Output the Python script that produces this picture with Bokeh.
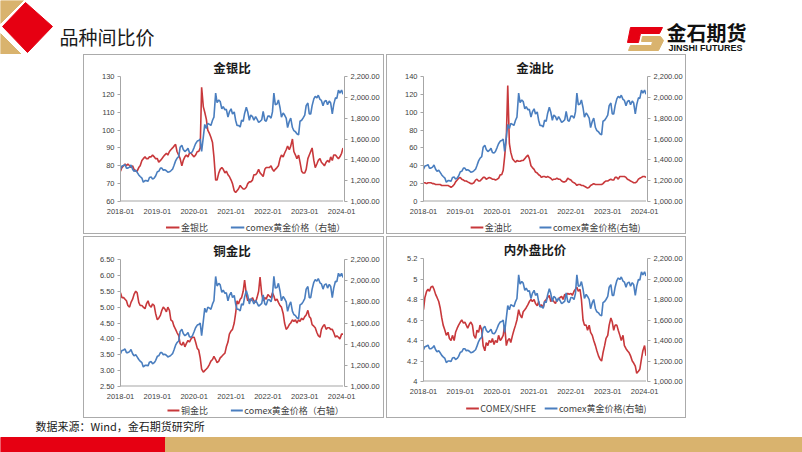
import pandas as pd
from bokeh.plotting import figure
from bokeh.layouts import row, column
from bokeh.models import (Range1d, FixedTicker, DatetimeTickFormatter,
                          NumeralTickFormatter, ColumnDataSource, Spacer)
from bokeh.core.properties import value
from bokeh.embed import file_html
from bokeh.resources import INLINE

# ---------------- data (semi-monthly readings) ----------------
dates = pd.date_range("2018-01-01", "2024-01-15", freq="SMS")
x_tick_labels = ["2018-01", "2019-01", "2020-01", "2021-01", "2022-01", "2023-01", "2024-01"]

gold = (
    [1310, 1340, 1345, 1355, 1320, 1320, 1330, 1350, 1310, 1290, 1300, 1280,
     1255, 1240, 1225, 1185, 1200, 1200, 1195, 1230, 1235, 1215, 1225, 1245]
    + [1285, 1290, 1320, 1320, 1300, 1305, 1295, 1280, 1285, 1295, 1310, 1345,
       1390, 1415, 1430, 1520, 1540, 1500, 1480, 1490, 1510, 1470, 1465, 1480]
    + [1520, 1555, 1580, 1585, 1600, 1480, 1620, 1740, 1700, 1750, 1740, 1730,
       1780, 1810, 2040, 1950, 1975, 1960, 1890, 1910, 1880, 1885, 1810, 1860]
    + [1890, 1840, 1860, 1780, 1730, 1730, 1715, 1780, 1770, 1845, 1905, 1860,
       1780, 1830, 1815, 1780, 1815, 1790, 1760, 1770, 1785, 1865, 1780, 1770]
    + [1820, 1820, 1800, 1860, 2040, 1930, 1935, 1975, 1900, 1810, 1850, 1830,
       1800, 1710, 1770, 1800, 1710, 1680, 1670, 1650, 1640, 1770, 1780, 1800]
    + [1830, 1920, 1945, 1840, 1840, 1920, 1985, 2010, 1995, 2020, 1980, 1970,
       1920, 1960, 1970, 1930, 1965, 1945, 1840, 1930, 1995, 1990, 2070, 2040]
    + [2070, 2030]
)

gold_silver = (
    [77, 79, 80, 81, 80, 81, 80, 79, 80, 78, 77, 77, 79, 80, 83, 84, 85, 84, 84, 85, 85, 86, 85, 84]
    + [84, 82, 83, 84, 85, 86, 87, 86, 88, 89, 90, 91, 92, 88, 86, 84, 80, 83, 85, 86, 85, 87, 87, 86]
    + [85, 86, 88, 88, 90, 124, 113, 110, 106, 100, 98, 96, 93, 85, 72, 72, 76, 78, 79, 78, 76, 77, 75, 74]
    + [72, 70, 66, 65, 66, 67, 69, 68, 67, 67, 68, 70, 71, 71, 72, 75, 75, 76, 78, 76, 75, 74, 78, 79]
    + [79, 79, 80, 78, 77, 78, 79, 80, 84, 86, 85, 87, 89, 91, 89, 91, 95, 88, 86, 84, 86, 82, 77, 76]
    + [76, 78, 84, 86, 88, 90, 83, 79, 81, 83, 84, 82, 81, 80, 82, 83, 82, 85, 83, 86, 86, 85, 84, 85]
    + [87, 90]
)

gold_oil = (
    [21, 21, 20, 21, 21, 21, 20, 20, 19, 19, 19, 19, 18, 18, 18, 18, 18, 17, 16, 17, 19, 22, 24, 26]
    + [27, 25, 24, 23, 23, 22, 21, 20, 20, 21, 24, 25, 23, 23, 25, 27, 27, 25, 26, 27, 26, 25, 25, 24]
    + [25, 26, 30, 30, 35, 50, 72, 130, 65, 55, 48, 46, 44, 46, 45, 45, 46, 46, 48, 50, 52, 48, 40, 38]
    + [36, 33, 32, 30, 29, 27, 28, 28, 27, 28, 27, 26, 24, 25, 25, 26, 25, 25, 23, 22, 22, 23, 26, 25]
    + [24, 22, 21, 20, 18, 19, 19, 18, 18, 17, 16, 15, 16, 18, 19, 20, 19, 19, 19, 19, 19, 20, 22, 23]
    + [23, 24, 25, 24, 24, 27, 27, 25, 28, 28, 28, 28, 27, 25, 24, 23, 22, 21, 21, 22, 25, 26, 27, 28]
    + [28, 27]
)

copper_gold = (
    [5.45, 5.30, 5.30, 5.25, 5.20, 5.05, 5.00, 5.15, 5.25, 5.40, 5.50, 5.45,
     5.15, 5.05, 5.05, 5.00, 4.95, 5.10, 5.20, 5.05, 5.00, 5.10, 5.05, 4.80]
    + [4.60, 4.65, 4.75, 4.90, 5.00, 4.95, 4.85, 5.00, 4.90, 4.60, 4.55, 4.40,
       4.30, 4.20, 4.10, 3.85, 3.80, 3.90, 3.75, 3.85, 3.95, 3.90, 4.00, 4.05]
    + [4.05, 3.90, 3.70, 3.65, 3.40, 3.05, 2.95, 3.00, 3.05, 3.10, 3.20, 3.30,
       3.35, 3.45, 3.35, 3.25, 3.30, 3.40, 3.45, 3.50, 3.55, 3.75, 3.90, 4.15]
    + [4.25, 4.30, 4.50, 4.80, 5.20, 5.10, 5.25, 5.30, 5.50, 5.85, 5.40, 5.20,
       5.25, 5.20, 5.30, 5.20, 5.15, 5.30, 5.50, 5.95, 5.40, 5.20, 5.30, 5.25]
    + [5.40, 5.35, 5.30, 5.45, 5.35, 5.20, 5.25, 5.15, 5.05, 5.00, 4.80, 4.50,
       4.30, 4.35, 4.45, 4.50, 4.60, 4.55, 4.60, 4.50, 4.60, 4.55, 4.65, 4.60]
    + [4.70, 4.75, 4.90, 4.70, 4.65, 4.45, 4.40, 4.35, 4.20, 4.10, 4.05, 4.30,
       4.40, 4.45, 4.30, 4.35, 4.35, 4.30, 4.30, 4.20, 4.05, 4.10, 4.05, 4.00]
    + [4.15, 4.15]
)

comex_shfe = (
    [4.70, 4.82, 4.88, 4.90, 4.88, 4.92, 4.93, 4.90, 4.85, 4.82, 4.78, 4.72,
     4.62, 4.55, 4.50, 4.45, 4.48, 4.42, 4.40, 4.45, 4.40, 4.48, 4.52, 4.55]
    + [4.58, 4.60, 4.57, 4.58, 4.55, 4.52, 4.56, 4.58, 4.55, 4.45, 4.42, 4.50,
       4.48, 4.55, 4.50, 4.35, 4.30, 4.38, 4.35, 4.40, 4.38, 4.42, 4.36, 4.40]
    + [4.38, 4.45, 4.40, 4.42, 4.45, 4.55, 4.35, 4.40, 4.42, 4.38, 4.45, 4.50,
       4.55, 4.60, 4.70, 4.65, 4.62, 4.68, 4.70, 4.72, 4.75, 4.78, 4.80, 4.78]
    + [4.80, 4.76, 4.74, 4.78, 4.73, 4.75, 4.72, 4.78, 4.80, 4.82, 4.84, 4.78,
       4.80, 4.78, 4.76, 4.80, 4.80, 4.82, 4.83, 4.80, 4.85, 4.84, 4.86, 4.85]
    + [4.86, 4.84, 4.88, 4.90, 4.92, 4.88, 4.90, 4.80, 4.60, 4.55, 4.55, 4.50,
       4.55, 4.48, 4.45, 4.40, 4.35, 4.30, 4.25, 4.22, 4.20, 4.28, 4.35, 4.42]
    + [4.45, 4.55, 4.62, 4.58, 4.50, 4.55, 4.55, 4.50, 4.45, 4.40, 4.45, 4.35,
       4.32, 4.30, 4.28, 4.25, 4.20, 4.18, 4.15, 4.08, 4.10, 4.12, 4.22, 4.30]
    + [4.35, 4.25]
)

gold_ticks = [1000, 1200, 1400, 1600, 1800, 2000, 2200]
gs_ticks = [60, 70, 80, 90, 100, 110, 120, 130]
go_ticks = [0, 20, 40, 60, 80, 100, 120, 140]
cg_ticks = [2.5, 3.0, 3.5, 4.0, 4.5, 5.0, 5.5, 6.0, 6.5]
cs_ticks = [4.0, 4.2, 4.4, 4.6, 4.8, 5.0, 5.2]

# ---------------- styling ----------------
RED = "#C8383B"
BLUE = "#4A7EBF"
CJK = "Noto Sans CJK SC"
NUM = "Liberation Sans"
AXIS = "#A6A6A6"
LBL = "#404040"
BOX = "#ABABAB"
RED_BRAND = "#E60012"
TAN = "#D9B36E"
PAD = 5  # room below the plot frame for the lowest y tick labels

x_start_ms = pd.Timestamp("2018-01-01").value // 10**6
x_end_ms = pd.Timestamp("2024-01-20").value // 10**6
x_ticks_ms = [pd.Timestamp(t + "-01").value // 10**6 for t in x_tick_labels]


def style_axis(ax):
    ax.axis_line_color = AXIS
    ax.major_tick_line_color = AXIS
    ax.major_tick_out = 3
    ax.major_tick_in = 0
    ax.minor_tick_line_color = None
    ax.major_label_text_font = NUM
    ax.major_label_text_font_size = "7.5px"
    ax.major_label_text_color = LBL
    ax.major_label_standoff = 3


def deco(w, h, x0, y0):
    p = figure(width=w, height=h, x_range=Range1d(x0, x0 + w), y_range=Range1d(y0 + h, y0),
               output_backend="svg", toolbar_location=None, min_border=0,
               x_axis_location=None, y_axis_location=None)
    p.grid.visible = False
    p.outline_line_color = None
    return p


def gray(w, h):
    return Spacer(width=w, height=h, styles={"background-color": BOX})


def chart_box(title, ratio, ratio_label, gold_label, ticks, fmt,
              box_x, box_y, box_w, box_h, top, frame_h, xb, legend_pos):
    cw, ch = box_w - 2, box_h - 2
    main_w = 259
    ax_w = cw - main_w
    main_h = top + frame_h + PAD
    xh = xb + 1 - PAD
    lh = ch - main_h - xh
    src = ColumnDataSource(dict(date=dates, ratio=ratio, gold=gold))

    # plot area with the left (ratio) axis
    p = figure(width=main_w, height=main_h, title=title,
               x_range=Range1d(x_start_ms, x_end_ms),
               y_range=Range1d(ticks[0], ticks[-1]),
               output_backend="svg", toolbar_location=None, x_axis_location=None,
               min_border_left=36, min_border_right=0,
               min_border_top=top, min_border_bottom=PAD)
    p.extra_y_ranges = {"gold": Range1d(gold_ticks[0], gold_ticks[-1])}
    # baseline of the date axis along the bottom of the frame
    p.segment(x0=[x_start_ms], x1=[x_end_ms], y0=[ticks[0]], y1=[ticks[0]],
              line_color=AXIS, line_width=2)
    p.line("date", "ratio", source=src, color=RED, line_width=1.6)
    p.line("date", "gold", source=src, color=BLUE, line_width=1.6, y_range_name="gold")
    p.yaxis.ticker = FixedTicker(ticks=ticks)
    p.yaxis.formatter = NumeralTickFormatter(format=fmt)
    for ax in p.axis:
        style_axis(ax)
    p.grid.visible = False
    p.outline_line_color = None
    p.title.align = "center"
    p.title.text_font = CJK
    p.title.text_font_size = "12.5px"
    p.title.text_font_style = "bold"
    p.title.text_color = "#1A1A1A"
    p.title.standoff = 0
    p.title.offset = 0

    # right-hand (gold) axis panel sharing the frame's vertical extent
    a = figure(width=ax_w, height=main_h, x_range=Range1d(0, 1),
               y_range=Range1d(gold_ticks[0], gold_ticks[-1]),
               output_backend="svg", toolbar_location=None,
               x_axis_location=None, y_axis_location="right",
               min_border_left=0, min_border_right=ax_w - 1,
               min_border_top=top, min_border_bottom=PAD)
    a.yaxis.ticker = FixedTicker(ticks=gold_ticks)
    a.yaxis.formatter = NumeralTickFormatter(format="0,0.00")
    style_axis(a.yaxis[0])
    a.grid.visible = False
    a.outline_line_color = None

    # date tick labels, same horizontal frame as the plot area
    xa = figure(width=cw, height=xh, x_axis_type="datetime",
                x_range=Range1d(x_start_ms, x_end_ms), y_range=Range1d(0, 1),
                output_backend="svg", toolbar_location=None, y_axis_location=None,
                min_border_left=36, min_border_right=ax_w,
                min_border_top=0, min_border_bottom=xh - 1)
    xa.xaxis.ticker = FixedTicker(ticks=x_ticks_ms)
    xa.xaxis.formatter = DatetimeTickFormatter(years="%Y-%m", months="%Y-%m", days="%Y-%m")
    style_axis(xa.xaxis[0])
    xa.xaxis.axis_line_color = None
    xa.xaxis.major_tick_out = 0
    xa.xaxis.major_label_standoff = 1
    xa.grid.visible = False
    xa.outline_line_color = None

    # legend strip
    lg = deco(cw, lh, box_x + 1, box_y + 1 + main_h + xh)
    (r0, r1, t0), (b0, b1, t1), ly = legend_pos
    lg.segment(x0=[r0], x1=[r1], y0=[ly], y1=[ly], line_color=RED, line_width=2)
    lg.segment(x0=[b0], x1=[b1], y0=[ly], y1=[ly], line_color=BLUE, line_width=2)
    lg.text(x=[t0, t1], y=[ly, ly], text=[ratio_label, gold_label], text_font=value(CJK),
            text_font_size="9px", text_baseline="middle", text_color=LBL)

    content = column(row(p, a), xa, lg)
    return column(gray(box_w, 1), row(gray(1, ch), content, gray(1, ch)), gray(box_w, 1))


# header
hdr = deco(802, 54, 0, 0)
hdr.patch([0, 23, 0], [0, 0, 23], color=TAN)
hdr.patch([0, 25, 25, 0], [33, 58, 62, 62], color=TAN)
hdr.patch([25, 52, 27, 2], [2, 26, 52, 26], color=RED_BRAND)
hdr.text(x=[59], y=[36], text=["品种间比价"], text_font=value(CJK), text_font_size="19px",
         text_baseline="middle", text_color="#1A1A1A")
hdr.patch([630, 662, 659, 640, 638, 627], [27, 27, 33, 33, 42, 42], color=RED_BRAND)
hdr.patch([642, 660, 663, 658, 628, 630, 651, 652, 641],
          [36, 36, 40, 50, 50, 45, 45, 41, 41], color=TAN)
hdr.text(x=[666], y=[32], text=["金石期货"], text_font=value(CJK), text_font_size="20px",
         text_font_style="bold", text_baseline="middle", text_color="#111111")
hdr.text(x=[668], y=[47], text=["JINSHI FUTURES"], text_font=value(NUM), text_font_size="9px",
         text_font_style="bold", text_baseline="middle", text_color="#111111")

# footer
ftr = deco(802, 34, 0, 418)
ftr.text(x=[35], y=[425], text=["数据来源：Wind，金石期货研究所"], text_font=value(CJK),
         text_font_size="11px", text_baseline="middle", text_color="#1A1A1A")
ftr.quad(left=[0], right=[165], top=[437], bottom=[452], color=RED_BRAND)
ftr.quad(left=[165], right=[802], top=[437], bottom=[452], color=TAN)

b1 = chart_box("金银比", gold_silver, "金银比", "comex黄金价格（右轴）", gs_ticks, "0",
               83, 54, 301, 180, 20, 126, 19, ((145, 163, 165), (232, 250, 252), 227))
b2 = chart_box("金油比", gold_oil, "金油比", "comex黄金价格(右轴)", go_ticks, "0",
               386, 54, 300, 180, 20, 126, 19, ((450, 467, 469), (542, 558, 560), 227))
b3 = chart_box("铜金比", copper_gold, "铜金比", "comex黄金价格（右轴）", cg_ticks, "0.00",
               83, 236, 301, 182, 22, 127, 18, ((147, 163, 165), (232, 248, 250), 410))
b4 = chart_box("内外盘比价", comex_shfe, "COMEX/SHFE", "comex黄金价格(右轴)", cs_ticks, "0.[0]",
               386, 236, 300, 182, 19, 125, 19, ((444, 461, 463), (549, 566, 568), 408))

layout = column(
    hdr,
    row(Spacer(width=83, height=180), b1, Spacer(width=2, height=180), b2, Spacer(width=116, height=180)),
    Spacer(width=802, height=2),
    row(Spacer(width=83, height=182), b3, Spacer(width=2, height=182), b4, Spacer(width=116, height=182)),
    ftr,
)

open("out.html", "w").write(file_html(layout, INLINE))
